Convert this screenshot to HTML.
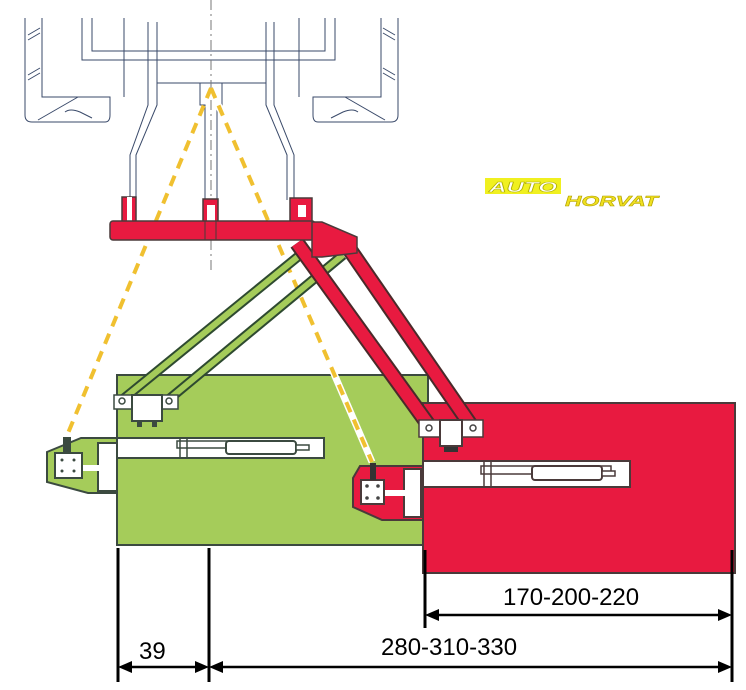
<!DOCTYPE html>
<html><head><meta charset="utf-8"><style>html,body{margin:0;padding:0;background:#fff;width:746px;height:690px;overflow:hidden}svg{display:block}</style></head>
<body>
<svg width="746" height="690" viewBox="0 0 746 690" xmlns="http://www.w3.org/2000/svg">
<g fill="none" stroke="#3a4a6a" stroke-width="1">
 <path d="M25 18 V115 Q25 122 32 122 H105 Q110 122 110 115 V97 H42 V18"/>
 <path d="M28 35 L40 28 M28 80 L40 73 M28 75 L40 68 M28 40 L40 33"/>
 <path d="M82 18 V60 H335 V18 M92 18 V51 H325 V18"/>
 <path d="M124 18 V97 M38 120 L78 97 M65 112 Q70 108 80 112 L92 118"/>
 <path d="M148 22 V105 L130 155 V200 M157 22 V105 L136 155 V200"/>
 <path d="M266 22 V105 L287 155 V200 M274 22 V105 L294 155 V200"/>
 <path d="M157 83 H266"/>
 <path d="M398 18 V115 Q398 122 391 122 H318 Q313 122 313 115 V97 H381 V18"/>
 <path d="M395 35 L383 28 M395 80 L383 73 M395 75 L383 68 M395 40 L383 33"/>
 <path d="M299 18 V97 M385 120 L345 97 M358 112 Q353 108 343 112 L331 118"/>
 <path d="M200 83 V105 H205 V200 M222 83 V105 H217 V200 M200 83 H222"/>
</g>
<line x1="211" y1="0" x2="211" y2="270" stroke="#777" stroke-width="1" stroke-dasharray="10,4,2,4"/>
<!-- green box -->
<rect x="117" y="375" width="311" height="170" fill="#a5cc5a" stroke="#3b4a40" stroke-width="2"/>
<polygon points="81,438 117,438 117,493 88,493 47,482 47,452" fill="#a5cc5a" stroke="#3b4a40" stroke-width="2"/>
<rect x="98" y="443" width="19" height="48" fill="#fff" stroke="#3b4a40" stroke-width="2"/>
<rect x="80" y="465" width="20" height="6" fill="#fff"/>
<rect x="117" y="438" width="207" height="20" fill="#fff" stroke="#3b4a40" stroke-width="2"/>
<rect x="177" y="441" width="110" height="7" fill="#fff" stroke="#3b4a40" stroke-width="1.5"/>
<rect x="226" y="441" width="70" height="13" rx="3" fill="#fff" stroke="#3b4a40" stroke-width="2"/>
<rect x="296" y="445" width="13" height="5" fill="#fff" stroke="#3b4a40" stroke-width="1.5"/>
<line x1="180" y1="438" x2="180" y2="458" stroke="#3b4a40" stroke-width="1.5"/>
<line x1="187" y1="438" x2="187" y2="458" stroke="#3b4a40" stroke-width="1.5"/>
<!-- yellow dashed -->
<line x1="211" y1="88" x2="372" y2="462" stroke="#fff" stroke-width="7"/>
<g stroke="#f0c030" stroke-width="4" stroke-dasharray="11,8" fill="none">
 <line x1="211" y1="88" x2="66" y2="438"/>
 <line x1="211" y1="88" x2="372" y2="462"/>
</g>
<rect x="55" y="453" width="27" height="25" fill="#fff" stroke="#3b4a40" stroke-width="2"/>
<rect x="63" y="437" width="8" height="16" fill="#3b4a40"/>
<g fill="#3b4a40"><circle cx="62" cy="460" r="1.5"/><circle cx="74" cy="460" r="1.5"/><circle cx="62" cy="471" r="1.5"/><circle cx="74" cy="471" r="1.5"/></g>
<!-- red box -->
<rect x="423" y="403" width="312" height="170" fill="#e81a40" stroke="#4a3a3a" stroke-width="2"/>
<polygon points="360,466 423,466 423,520 382,520 353,507 353,478" fill="#e81a40" stroke="#4a3a3a" stroke-width="2"/>
<rect x="404" y="469" width="17" height="48" fill="#fff" stroke="#4a3a3a" stroke-width="2"/>
<rect x="382" y="490" width="24" height="6" fill="#fff"/>
<rect x="361" y="480" width="23" height="24" fill="#fff" stroke="#4a3a3a" stroke-width="2"/>
<rect x="370" y="463" width="6" height="17" fill="#333"/>
<g fill="#444"><circle cx="367" cy="486" r="1.8"/><circle cx="378" cy="486" r="1.8"/><circle cx="367" cy="498" r="1.8"/><circle cx="378" cy="498" r="1.8"/></g>
<rect x="423" y="461" width="207" height="26" fill="#fff" stroke="#4a3a3a" stroke-width="2"/>
<rect x="481" y="466" width="130" height="8" fill="#fff" stroke="#4a3a3a" stroke-width="1.5"/>
<rect x="532" y="466" width="70" height="14" rx="3" fill="#fff" stroke="#4a3a3a" stroke-width="2"/>
<rect x="602" y="471" width="13" height="5" fill="#fff" stroke="#4a3a3a" stroke-width="1.5"/>
<line x1="484" y1="461" x2="484" y2="487" stroke="#4a3a3a" stroke-width="1.5"/>
<line x1="491" y1="461" x2="491" y2="487" stroke="#4a3a3a" stroke-width="1.5"/>
<!-- green arms -->
<g stroke-linecap="butt">
 <line x1="300" y1="255" x2="122" y2="400" stroke="#2e4a30" stroke-width="10"/>
 <line x1="300" y1="255" x2="122" y2="400" stroke="#a5cc5a" stroke-width="6"/>
 <line x1="343" y1="255" x2="168" y2="400" stroke="#2e4a30" stroke-width="10"/>
 <line x1="343" y1="255" x2="168" y2="400" stroke="#a5cc5a" stroke-width="6"/>
</g>
<rect x="114" y="395" width="64" height="14" fill="#fff" stroke="#3b4a40" stroke-width="1.5"/>
<rect x="132" y="395" width="30" height="26" fill="#fff" stroke="#3b4a40" stroke-width="2"/>
<rect x="137" y="422" width="5" height="5" fill="#3b4a40"/><rect x="152" y="422" width="5" height="5" fill="#3b4a40"/>
<circle cx="122" cy="401" r="3" fill="#fff" stroke="#3b4a40" stroke-width="1.5"/>
<circle cx="169" cy="401" r="3" fill="#fff" stroke="#3b4a40" stroke-width="1.5"/>
<!-- red arms -->
<line x1="297" y1="243" x2="430" y2="427" stroke="#4a2a2a" stroke-width="16"/>
<line x1="297" y1="243" x2="430" y2="427" stroke="#e81a40" stroke-width="12"/>
<line x1="350" y1="250" x2="472" y2="427" stroke="#4a2a2a" stroke-width="16"/>
<line x1="350" y1="250" x2="472" y2="427" stroke="#e81a40" stroke-width="12"/>
<rect x="419" y="420" width="64" height="17" fill="#fff" stroke="#4a3a3a" stroke-width="1.5"/>
<rect x="440" y="420" width="22" height="26" fill="#fff" stroke="#4a3a3a" stroke-width="2"/>
<rect x="444" y="447" width="14" height="5" fill="#333"/>
<circle cx="429" cy="428" r="3" fill="#fff" stroke="#444" stroke-width="1.5"/>
<circle cx="473" cy="428" r="3" fill="#fff" stroke="#444" stroke-width="1.5"/>
<!-- red bar -->
<rect x="122" y="197" width="14" height="25" fill="#e81a40" stroke="#4a3a3a" stroke-width="1.5"/>
<rect x="127" y="197" width="5" height="25" fill="#fff"/>
<rect x="203" y="199" width="15" height="40" fill="#e81a40" stroke="#4a3a3a" stroke-width="1.5"/>
<rect x="207" y="205" width="8" height="16" fill="#fff"/>
<rect x="290" y="198" width="22" height="25" fill="#e81a40" stroke="#4a3a3a" stroke-width="1.5"/>
<rect x="298" y="205" width="8" height="12" fill="#fff"/>
<rect x="110" y="221" width="205" height="19" rx="3" fill="#e81a40" stroke="#4a3a3a" stroke-width="1.5"/>
<polygon points="312,222 322,222 357,237 357,253 322,257 312,257" fill="#e81a40" stroke="#4a3a3a" stroke-width="1.5"/>
<line x1="205" y1="221" x2="205" y2="240" stroke="#4a3a3a"/><line x1="216" y1="221" x2="216" y2="240" stroke="#4a3a3a"/>
<!-- dimensions -->
<g stroke="#000" stroke-width="3">
 <line x1="118" y1="548" x2="118" y2="682"/>
 <line x1="209" y1="548" x2="209" y2="682"/>
 <line x1="425" y1="550" x2="425" y2="628"/>
 <line x1="732" y1="550" x2="732" y2="682"/>
</g>
<g stroke="#000" stroke-width="2.5">
 <line x1="128" y1="667" x2="199" y2="667"/>
 <line x1="219" y1="667" x2="722" y2="667"/>
 <line x1="435" y1="615" x2="722" y2="615"/>
</g>
<g fill="#000">
 <polygon points="118,667 132,661 132,673"/><polygon points="209,667 195,661 195,673"/>
 <polygon points="209,667 223,661 223,673"/><polygon points="732,667 718,661 718,673"/>
 <polygon points="425,615 439,609 439,621"/><polygon points="732,615 718,609 718,621"/>
</g>
<g font-family="Liberation Sans, sans-serif" font-size="24" fill="#000">
 <text x="139" y="659">39</text>
 <text x="381" y="655">280-310-330</text>
 <text x="503" y="605">170-200-220</text>
</g>
<!-- logo -->
<rect x="485" y="178" width="76" height="16" fill="#f0f020"/>
<text x="489" y="192" textLength="68" lengthAdjust="spacingAndGlyphs" font-family="Liberation Sans, sans-serif" font-size="15" font-weight="bold" font-style="italic" fill="#fff" stroke="#b0b000" stroke-width="0.6">AUTO</text>
<text x="565" y="206" textLength="93" lengthAdjust="spacingAndGlyphs" font-family="Liberation Sans, sans-serif" font-size="15" font-weight="bold" font-style="italic" fill="#f0e020" stroke="#b0a000" stroke-width="0.5">HORVAT</text>
</svg>
</body></html>
